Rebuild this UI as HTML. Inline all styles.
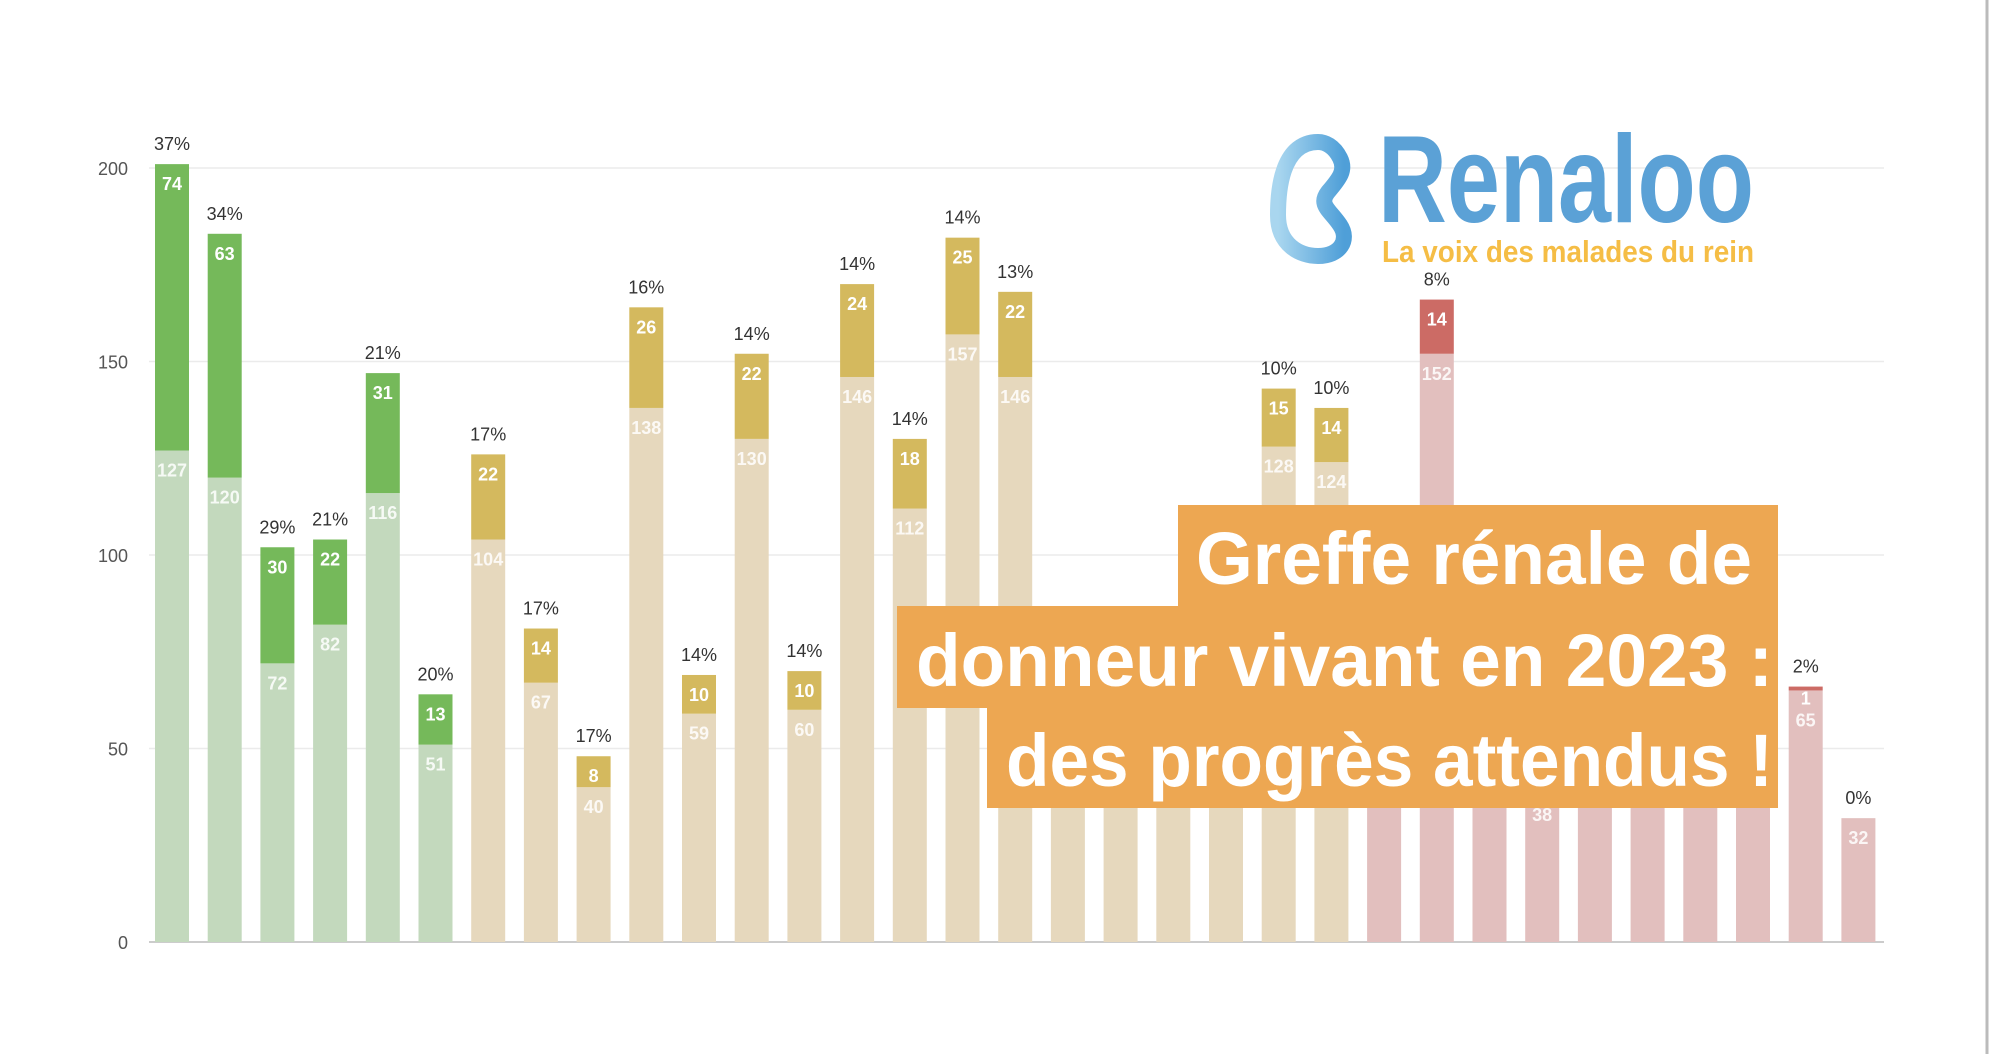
<!DOCTYPE html>
<html><head><meta charset="utf-8"><style>
html,body{margin:0;padding:0;background:#fff;width:1996px;height:1054px;overflow:hidden}
svg{display:block}
</style></head><body>
<svg id="chart" width="1996" height="1054" xmlns="http://www.w3.org/2000/svg" font-family="Liberation Sans, sans-serif">
<g id="grid"></g>
<g id="yaxis"></g>
<g id="bars"></g>
<line x1="1987" y1="0" x2="1987" y2="1054" stroke="#bbb" stroke-width="3"/>
<g>
<defs><linearGradient id="kg" x1="0" x2="1"><stop offset="0" stop-color="#a9d6ef"/><stop offset="1" stop-color="#4f9fd8"/></linearGradient></defs>
<path d="M1318 142 C1280 142 1278 195 1278 215 C1278 245 1300 256 1318 256 C1340 256 1350 240 1340 225 C1330 210 1318 205 1328 192 C1340 178 1346 170 1340 158 C1334 146 1325 142 1318 142 Z" fill="none" stroke="url(#kg)" stroke-width="16"/>
<text x="1378" y="222" font-size="124" font-weight="bold" fill="#5ba1d6" textLength="376" lengthAdjust="spacingAndGlyphs">Renaloo</text>
<text x="1382" y="262" font-size="31" font-weight="bold" fill="#f5bd45" textLength="372" lengthAdjust="spacingAndGlyphs">La voix des malades du rein</text>
</g>
<g>
<rect x="1178" y="505" width="600" height="102" fill="#eda752"/>
<rect x="897" y="606" width="881" height="102" fill="#eda752"/>
<rect x="987" y="707" width="791" height="101" fill="#eda752"/>
<text x="1196" y="584" font-size="74" font-weight="bold" fill="#fff" textLength="556" lengthAdjust="spacingAndGlyphs">Greffe rénale de</text>
<text x="916" y="686" font-size="74" font-weight="bold" fill="#fff" textLength="857" lengthAdjust="spacingAndGlyphs">donneur vivant en 2023 :</text>
<text x="1006" y="786" font-size="74" font-weight="bold" fill="#fff" textLength="767" lengthAdjust="spacingAndGlyphs">des progrès attendus !</text>
</g>
</svg>
<script>
const categories = ["r1","r2","r3","r4","r5","r6","r7","r8","r9","r10","r11","r12","r13","r14","r15","r16","r17","r18","r19","r20","r21","r22","r23","r24","r25","r26","r27","r28","r29","r30","r31","r32","r33"];
const baseValues = [127,120,72,82,116,51,104,67,40,138,59,130,60,146,112,157,146,80,70,75,65,128,124,90,152,85,38,60,70,55,80,65,32];
const topValues  = [74,63,30,22,31,13,22,14,8,26,10,22,10,24,18,25,22,0,0,0,0,15,14,0,14,0,0,0,0,0,0,1,0];
const pctLabels  = ["37%","34%","29%","21%","21%","20%","17%","17%","17%","16%","14%","14%","14%","14%","14%","14%","13%","","","","","10%","10%","","8%","","","","","","","2%","0%"];
const groups     = ["g","g","g","g","g","g","t","t","t","t","t","t","t","t","t","t","t","t","t","t","t","t","t","r","r","r","r","r","r","r","r","r","r"];
const yTicks = [0,50,100,150,200];

const NS="http://www.w3.org/2000/svg";
const y0=942, yTop=168, xL=149, xR=1884, step=52.7, x0=172, bw=34;
const y=v=>y0-(v/200)*(y0-yTop);
const xc=i=>x0+i*step;
const colors={g:["#c3d9bd","#75b95a"],t:["#e6d8bd","#d4b95e"],r:["#e2bfbe","#cc6b65"]};
function mk(tag,attrs,parent){const e=document.createElementNS(NS,tag);for(const k in attrs)e.setAttribute(k,attrs[k]);parent.appendChild(e);return e;}
const grid=document.getElementById('grid'), ya=document.getElementById('yaxis'), bars=document.getElementById('bars');
yTicks.forEach(t=>{
  const l=mk('line',{x1:xL,x2:xR,y1:y(t),y2:y(t),stroke:t===0?'#ccc':'#ebebeb','stroke-width':t===0?2:1.5},grid);
  
  
  const tx=mk('text',{x:128,y:y(t)+7,'text-anchor':'end','font-size':18,fill:'#555'},ya);
  tx.textContent=t;
  
  
});
categories.forEach((c,i)=>{
  const g=mk('g',{},bars);
  
  
  const b=baseValues[i], t=topValues[i], col=colors[groups[i]], cx=xc(i);
  const r1=mk('rect',{x:cx-bw/2,y:y(b),width:bw,height:y0-y(b),fill:col[0]},g);
  
  
  let baseLabelY=y(b)+26;
  if(t>0){
    const r2=mk('rect',{x:cx-bw/2,y:y(b+t),width:bw,height:y(b)-y(b+t),fill:col[1]},g);
    
    
    const tlY=y(b+t)+(y(b)-y(b+t)<30?18:26);
    const tl=mk('text',{x:cx,y:tlY,'text-anchor':'middle','font-size':18,'font-weight':'bold',fill:'#fff'},g);
    tl.textContent=t;
    
    
    baseLabelY=Math.max(baseLabelY,tlY+22);
  }
  const bl=mk('text',{x:cx,y:baseLabelY,'text-anchor':'middle','font-size':18,'font-weight':'bold',fill:'#fff','fill-opacity':0.85},g);
  bl.textContent=b;
  
  
  if(pctLabels[i]){
    const pl=mk('text',{x:cx,y:y(b+t)-14,'text-anchor':'middle','font-size':18,fill:'#333'},g);
    pl.textContent=pctLabels[i];
    
    
  }
});
</script>
</body></html>
